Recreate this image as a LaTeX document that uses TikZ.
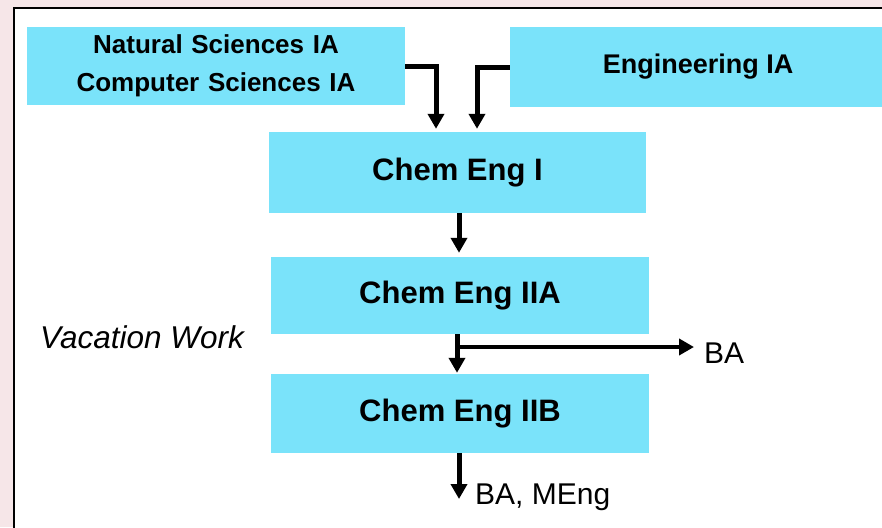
\documentclass[tikz,border=0pt]{standalone}
\usepackage{fontspec}
\setmainfont{Liberation Sans}
\usetikzlibrary{arrows.meta}
\definecolor{boxcyan}{HTML}{7AE3FA}
\definecolor{slidepink}{HTML}{F6E6E8}
\tikzset{
  course/.style={fill=boxcyan, minimum width=378pt, minimum height=78pt, inner sep=0pt,
    align=center, font=\bfseries\fontsize{26}{38}\selectfont},
  chem/.style={course, font=\bfseries\fontsize{31}{36}\selectfont},
  arr/.style={line width=5pt, -{Triangle[length=15pt,width=16pt]}},
  outlbl/.style={anchor=west, inner sep=0pt, font=\fontsize{30}{34}\selectfont}
}
\begin{document}
\begin{tikzpicture}[x=1pt,y=-1pt]
\useasboundingbox (0,0) rectangle (882,527);
\clip (0,0) rectangle (882,527);
\fill[slidepink] (0,0) rectangle (882,527);
\fill[white] (14,8) rectangle (900,540);
\draw[line width=2pt] (14,540) -- (14,8) -- (900,8);
% courses
\node[course, text width=370pt] (natsci) at (216,66) {Natural Sciences IA\\Computer Sciences IA};
\node[course, minimum width=380pt, minimum height=80pt] (eng) at (700,67) {};
\node[font=\bfseries\fontsize{27}{30}\selectfont] (englbl) at (698,67) {Engineering IA};
\node[chem, minimum width=377pt, minimum height=81pt] (ce1) at (457.5,172.5) {Chem Eng I};
\node[chem, minimum height=77pt] (ce2) at (460,295.5) {Chem Eng IIA};
\node[chem, minimum height=79pt] (ce3) at (460,413.5) {Chem Eng IIB};
\node[font=\itshape\fontsize{31.5}{36}\selectfont] (vac) at (142,337) {Vacation Work};
% exits
\node[outlbl] (ba) at (704,353) {BA};
\node[outlbl] (bameng) at (475,497) {BA, MEng};
\coordinate (split) at (457,347);
\coordinate (out) at (459,499);
% arrows
\draw[arr, shorten >=3pt] (natsci.east) -| ([xshift=-21.5pt]ce1.north);
\draw[arr, shorten >=3pt] (eng.west) -| ([xshift=19.5pt]ce1.north);
\draw[arr, shorten >=4pt] ([xshift=1.5pt]ce1.south) -- ([xshift=1.5pt]ce1.south |- ce2.north);
\draw[arr, shorten >=1pt] ([xshift=-3pt]ce2.south) -- ([xshift=-3pt]ce2.south |- ce3.north);
\draw[arr, line width=4.5pt, shorten >=10pt] (split) -- (split -| ba.west);
\draw[arr] (ce3.south -| out) -- (out);
\end{tikzpicture}
\end{document}
